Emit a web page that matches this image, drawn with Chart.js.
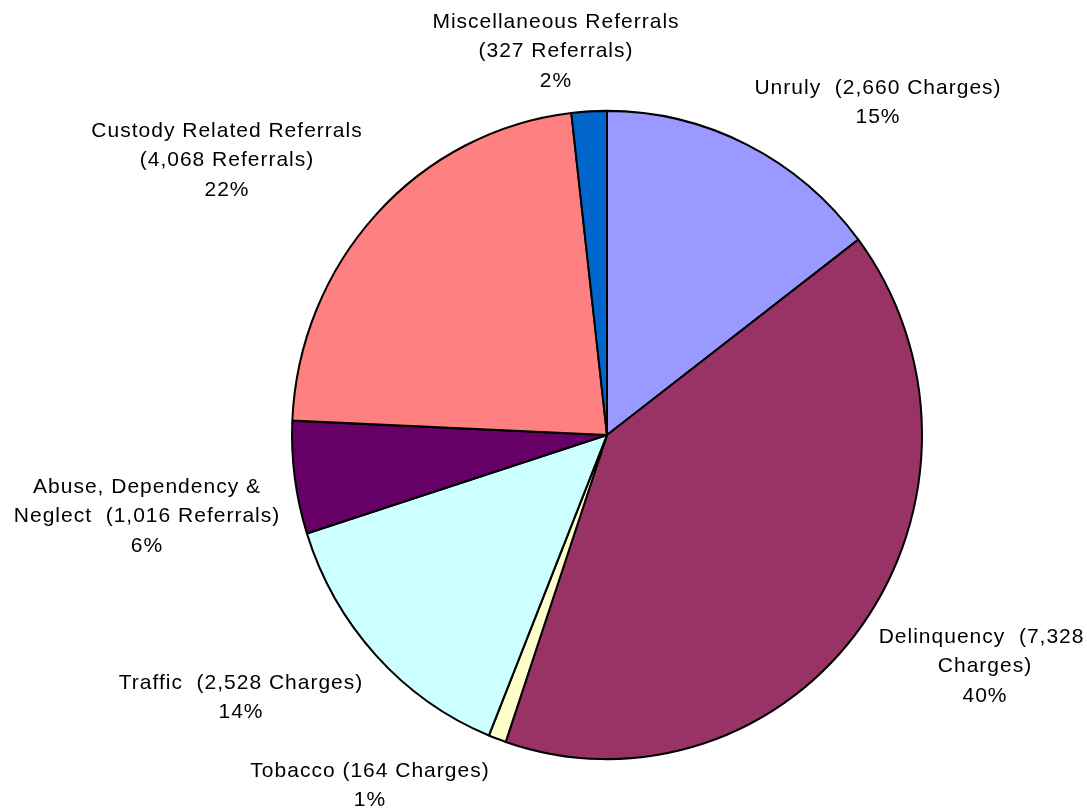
<!DOCTYPE html>
<html>
<head>
<meta charset="utf-8">
<script src="https://cdn.jsdelivr.net/npm/chart.js@4"></script>
<style>
  html, body { margin: 0; padding: 0; background: #fff; }
  #wrap { width: 1087px; height: 809px; position: relative; }
</style>
</head>
<body>
<div id="wrap"><canvas id="pie"></canvas></div>
<script>
const categories = [
  'Unruly', 'Delinquency', 'Tobacco', 'Traffic',
  'Abuse, Dependency & Neglect', 'Custody Related Referrals', 'Miscellaneous Referrals'
];
const counts = [2660, 7328, 164, 2528, 1016, 4068, 327];
const units = ['Charges', 'Charges', 'Charges', 'Charges', 'Referrals', 'Referrals', 'Referrals'];
const colors = ['#9999FF', '#993366', '#FFFFCC', '#CCFFFF', '#660066', '#FF8080', '#0066CC'];

// label text lines, as laid out in the original
const labelLines = [
  ['Unruly  (2,660 Charges)', '15%'],
  ['Delinquency  (7,328 ', 'Charges)', '40%'],
  ['Tobacco (164 Charges)', '1%'],
  ['Traffic  (2,528 Charges)', '14%'],
  ['Abuse, Dependency &', 'Neglect  (1,016 Referrals)', '6%'],
  ['Custody Related Referrals', '(4,068 Referrals)', '22%'],
  ['Miscellaneous Referrals', '(327 Referrals)', '2%'],
];
// centre x / first line y of each label block
const labelPos = [
  [878, 88], [985, 637], [370, 771], [241, 683], [147, 487], [227, 131], [556, 22]
];

// the original pie is a touch taller than wide
const stretchY = 1.029;
const stretch = {
  id: 'stretch',
  beforeDatasetsDraw(chart) {
    const arc = chart.getDatasetMeta(0).data[0];
    const c = chart.ctx;
    c.save();
    c.translate(arc.x, arc.y);
    c.scale(1, stretchY);
    c.translate(-arc.x, -arc.y);
  },
  afterDatasetsDraw(chart) {
    chart.ctx.restore();
  }
};

const pieLabels = {
  id: 'pieLabels',
  afterDraw(chart) {
    const c = chart.ctx;
    c.save();
    c.font = '21px "Liberation Sans", Arial, sans-serif';
    c.letterSpacing = '1px';
    c.fillStyle = '#000';
    c.textAlign = 'center';
    c.textBaseline = 'middle';
    labelLines.forEach((lines, i) => {
      const [x, y] = labelPos[i];
      lines.forEach((t, j) => c.fillText(t, x, y + j * 29.5));
    });
    c.restore();
  }
};

new Chart(document.getElementById('pie'), {
  type: 'pie',
  data: {
    labels: categories,
    datasets: [{
      data: counts,
      backgroundColor: colors,
      borderColor: '#000',
      borderWidth: 2,
    }],
  },
  options: {
    responsive: true,
    maintainAspectRatio: false,
    animation: false,
    layout: { padding: { left: 291, right: 164, top: 119, bottom: 58 } },
    plugins: {
      legend: { display: false },
      tooltip: { enabled: false },
    },
  },
  plugins: [stretch, pieLabels],
});
</script>
</body>
</html>
